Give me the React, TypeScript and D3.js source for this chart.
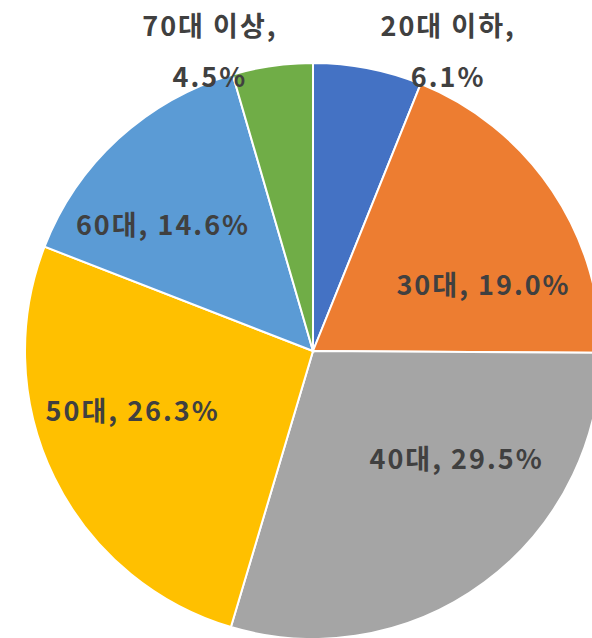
import React, { useEffect, useRef } from "react";
import * as d3 from "d3";

// 연령대별 비율 (%)
const categories = ["20대 이하", "30대", "40대", "50대", "60대", "70대 이상"];
const shares = [6.1, 19.0, 29.5, 26.3, 14.6, 4.5];
const colors = ["#4472C4", "#ED7D31", "#A5A5A5", "#FFC000", "#5B9BD5", "#70AD47"];

// label placement: angle (deg, clockwise from 12 o'clock) and distance as fraction of radius
const labelAngle = [24.3, 68.8, 127.1, 251.6, 310, 341];
const labelDist = [1.14, 0.635, 0.625, 0.66, 0.68, 1.1];
const twoLine = [true, false, false, false, false, true];

const App = () => {
  const svgRef = useRef<SVGSVGElement>(null);

  useEffect(() => {
    const svg = d3.select(svgRef.current);
    svg.selectAll("*").remove();

    const width = 592,
      height = 638;
    const cx = 313,
      cy = 351,
      radius = 288;

    const data = categories.map((name, i) => ({ name, value: shares[i], i }));

    const pie = d3
      .pie<any>()
      .sort(null)
      .value((d) => d.value);
    const arc = d3.arc<any>().innerRadius(0).outerRadius(radius);

    const g = svg.append("g").attr("transform", `translate(${cx}, ${cy})`);

    g.selectAll(".slice")
      .data(pie(data))
      .enter()
      .append("path")
      .attr("class", "slice")
      .attr("d", arc)
      .attr("fill", (d) => colors[d.data.i])
      .attr("stroke", "#fff")
      .attr("stroke-width", 2);

    const labels = g
      .selectAll(".label")
      .data(data)
      .enter()
      .append("text")
      .attr("class", "label")
      .attr("text-anchor", "middle")
      .attr("font-family", "'Noto Sans CJK KR', 'Noto Sans', sans-serif")
      .attr("font-weight", "bold")
      .attr("font-size", "27px")
      .attr("letter-spacing", "2px")
      .attr("fill", "#404040")
      .attr("transform", (d) => {
        const a = (labelAngle[d.i] * Math.PI) / 180;
        const r = labelDist[d.i] * radius;
        return `translate(${r * Math.sin(a)}, ${-r * Math.cos(a)})`;
      });

    labels.each(function (d) {
      const t = d3.select(this);
      const pct = d.value.toFixed(1) + "%";
      if (twoLine[d.i]) {
        t.append("tspan").attr("x", 0).attr("y", -25.5).attr("dy", "0.36em").text(d.name + ",");
        t.append("tspan").attr("x", 0).attr("y", 25.5).attr("dy", "0.36em").text(pct);
      } else {
        t.append("tspan").attr("x", 0).attr("y", 0).attr("dy", "0.36em").text(`${d.name}, ${pct}`);
      }
    });

    svg.attr("width", width).attr("height", height);
  }, []);

  return (
    <svg
      ref={svgRef}
      style={{ position: "absolute", left: 0, top: 0, display: "block", background: "#fff" }}
    ></svg>
  );
};

export default App;
